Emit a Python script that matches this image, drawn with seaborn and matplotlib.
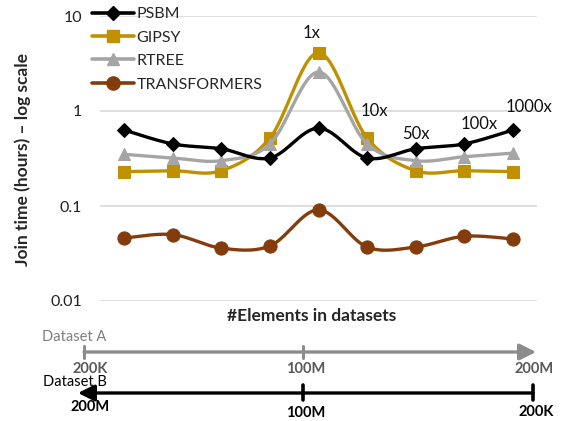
import numpy as np
import pandas as pd
import matplotlib
matplotlib.use("Agg")
import matplotlib.pyplot as plt
from matplotlib.patches import FancyArrowPatch
from matplotlib.lines import Line2D
import seaborn as sns

# ---------------- data ----------------
positions = [0.5, 1.5, 2.5, 3.5, 4.5, 5.5, 6.5, 7.5, 8.5]
psbm = [0.63, 0.45, 0.40, 0.32, 0.66, 0.32, 0.40, 0.45, 0.63]
gipsy = [0.23, 0.235, 0.235, 0.52, 4.1, 0.52, 0.235, 0.235, 0.23]
rtree = [0.35, 0.32, 0.30, 0.45, 2.57, 0.45, 0.30, 0.33, 0.36]
transformers = [0.046, 0.050, 0.036, 0.038, 0.091, 0.037, 0.037, 0.048, 0.045]
series_names = ["PSBM", "GIPSY", "RTREE", "TRANSFORMERS"]
ratio_labels = ["1x", "10x", "50x", "100x", "1000x"]
ratio_x = [4.36, 5.64, 6.5, 7.8, 8.83]
ratio_y = [6.6, 1.0, 0.57, 0.73, 1.1]
y_ticks = [0.01, 0.1, 1, 10]
y_ticklabels = ["0.01", "0.1", "1", "10"]
dsA_labels = ["200K", "100M", "200M"]
dsB_labels = ["200M", "100M", "200K"]

colors = {"PSBM": "#000000", "GIPSY": "#BF9000", "RTREE": "#A5A5A5",
          "TRANSFORMERS": "#843C0C"}
markers = {"PSBM": "D", "GIPSY": "s", "RTREE": "^", "TRANSFORMERS": "o"}
msizes = {"PSBM": 7, "GIPSY": 9, "RTREE": 9, "TRANSFORMERS": 9.5}

W, H = 561, 421
FONT = ["Lato", "DejaVu Sans"]
sns.set_theme(style="white")
plt.rcParams["font.family"] = FONT

fig = plt.figure(figsize=(W / 100, H / 100), dpi=100)
ax = fig.add_axes([100 / W, 1 - 301 / H, 437 / W, 285 / H])


def catmull(xs, ys, n=30):
    """Excel-like smoothed line (Catmull-Rom in log space)."""
    x = np.asarray(xs, float)
    ly = np.log10(np.asarray(ys, float))
    px = np.concatenate([[x[0]], x, [x[-1]]])
    py = np.concatenate([[ly[0]], ly, [ly[-1]]])
    ox, oy = [], []
    for i in range(1, len(px) - 2):
        p0, p1, p2, p3 = [np.array([px[j], py[j]]) for j in (i - 1, i, i + 1, i + 2)]
        c1 = p1 + (p2 - p0) / 6
        c2 = p2 - (p3 - p1) / 6
        t = np.linspace(0, 1, n)[:, None]
        b = ((1 - t) ** 3) * p1 + 3 * ((1 - t) ** 2) * t * c1 + 3 * (1 - t) * t ** 2 * c2 + t ** 3 * p2
        ox.extend(b[:, 0]); oy.extend(b[:, 1])
    return np.array(ox), 10 ** np.array(oy)


data = {"PSBM": psbm, "GIPSY": gipsy, "RTREE": rtree, "TRANSFORMERS": transformers}
order = ["TRANSFORMERS", "PSBM", "RTREE", "GIPSY"]
z = {"TRANSFORMERS": 2, "PSBM": 5, "GIPSY": 3, "RTREE": 4}
for name in order:
    sx, sy = catmull(positions, data[name])
    sns.lineplot(x=sx, y=sy, ax=ax, color=colors[name], lw=2.4, sort=False,
                 estimator=None, zorder=z[name])
    sns.lineplot(x=positions, y=data[name], ax=ax, color=colors[name], lw=0,
                 marker=markers[name], markersize=msizes[name],
                 markeredgecolor=colors[name], estimator=None, zorder=z[name] + 0.5)

ax.set_yscale("log")
ax.set_ylim(0.01, 10)
ax.set_xlim(0, 9)
ax.set_xticks([])
ax.set_yticks(y_ticks)
ax.set_yticklabels(y_ticklabels, fontsize=11.5, color="#222222", family=FONT)
ax.minorticks_off()
ax.tick_params(axis="y", length=0, pad=13)
ax.yaxis.grid(True, color="#D9D9D9", lw=1.2)
ax.xaxis.grid(False)
for s in ax.spines.values():
    s.set_visible(False)
ax.set_facecolor("none")
ax.set_xlabel("")
ax.set_ylabel("")

for lab, xx, yy in zip(ratio_labels, ratio_x, ratio_y):
    ax.text(xx, yy, lab, fontsize=12, ha="center", va="center", color="#111111",
            family=FONT, zorder=10)

# legend
handles = [Line2D([0], [0], color=colors[n], lw=2.6, marker=markers[n],
                  markersize=msizes[n], markeredgecolor=colors[n]) for n in series_names]
fig.legend(handles, series_names, loc="upper left",
           bbox_to_anchor=(92 / W, 1 - 7 / H), frameon=False,
           handlelength=2.65, handletextpad=0.15, labelspacing=0.58,
           borderpad=0, borderaxespad=0, prop={"family": FONT, "size": 11.5})


def P(x, y):
    return (x / W, 1 - y / H)


fig.text(*P(23, 160), "Join time (hours) – log scale", rotation=90, ha="center",
         va="center", fontsize=12.5, fontweight="bold", family=FONT)
fig.text(*P(312, 316), "#Elements in datasets", ha="center", va="center",
         fontsize=12.5, fontweight="bold", family=FONT)

# Dataset A axis
gA = "#8C8C8C"
fig.text(*P(42, 337), "Dataset A", ha="left", va="center", fontsize=10.5,
         color="#7F7F7F", family=FONT)
fig.patches.append(FancyArrowPatch(P(84, 352), P(536, 352), transform=fig.transFigure,
                                   arrowstyle="-|>,head_length=0.7,head_width=0.35",
                                   mutation_scale=14, color=gA, lw=2.4, shrinkA=0, shrinkB=0))
for x in (84, 303):
    fig.add_artist(Line2D([x / W, x / W], [1 - 346 / H, 1 - 358 / H], color=gA, lw=2.2))
for lab, x in zip(dsA_labels, (90, 306, 534)):
    fig.text(*P(x, 369), lab, ha="center", va="center", fontsize=10.5,
             fontweight="bold", color="#595959", family=FONT)

# Dataset B axis
fig.text(*P(43, 382), "Dataset B", ha="left", va="center", fontsize=10.5,
         color="#000000", family=FONT)
fig.patches.append(FancyArrowPatch(P(533, 393), P(78, 393), transform=fig.transFigure,
                                   arrowstyle="-|>,head_length=0.7,head_width=0.35",
                                   mutation_scale=14, color="black", lw=2.4,
                                   shrinkA=0, shrinkB=0))
for x in (303, 533):
    fig.add_artist(Line2D([x / W, x / W], [1 - 385 / H, 1 - 400 / H], color="black", lw=2.6))
for lab, x, y in zip(dsB_labels, (90, 306, 536), (407, 413, 412)):
    fig.text(*P(x, y), lab, ha="center", va="center", fontsize=10.5,
             fontweight="bold", color="#000000", family=FONT)

fig.savefig("out.png", dpi=100)
